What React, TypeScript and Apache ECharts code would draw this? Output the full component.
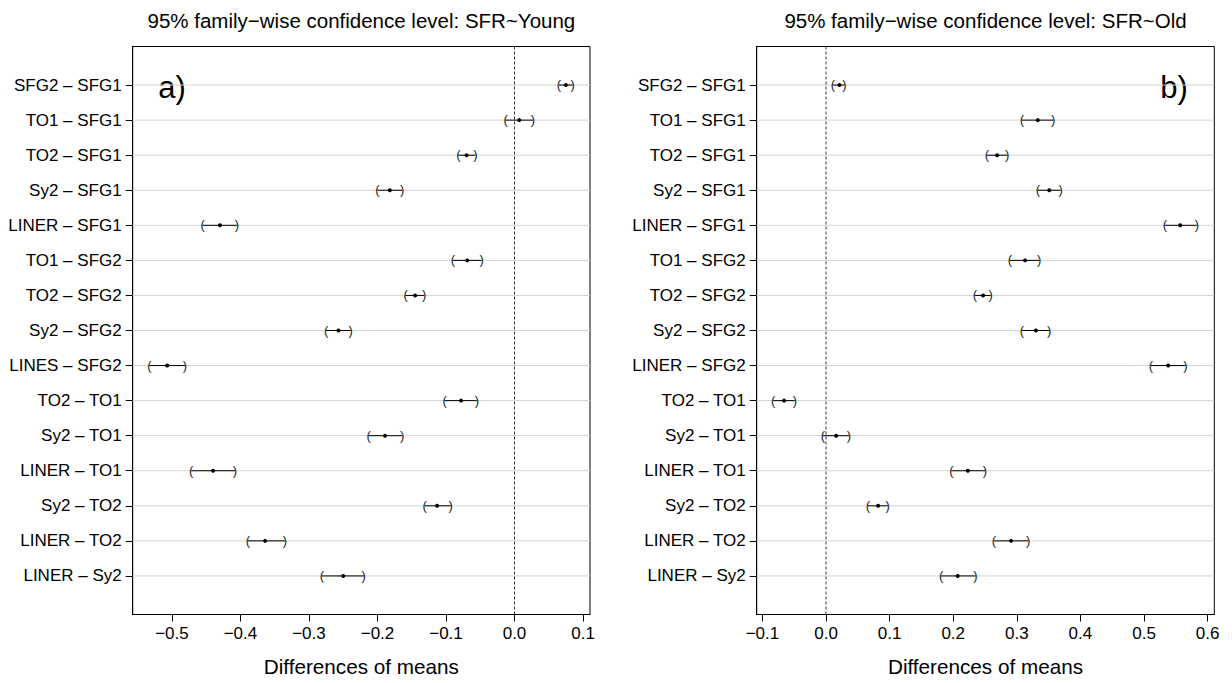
import React, { useEffect, useRef } from "react";
import * as echarts from "echarts";

// ---------- data ----------
const rowLabelsYoung = [
  "SFG2 – SFG1", "TO1 – SFG1", "TO2 – SFG1", "Sy2 – SFG1", "LINER – SFG1",
  "TO1 – SFG2", "TO2 – SFG2", "Sy2 – SFG2", "LINES – SFG2", "TO2 – TO1",
  "Sy2 – TO1", "LINER – TO1", "Sy2 – TO2", "LINER – TO2", "LINER – Sy2",
];
const rowLabelsOld = [
  "SFG2 – SFG1", "TO1 – SFG1", "TO2 – SFG1", "Sy2 – SFG1", "LINER – SFG1",
  "TO1 – SFG2", "TO2 – SFG2", "Sy2 – SFG2", "LINER – SFG2", "TO2 – TO1",
  "Sy2 – TO1", "LINER – TO1", "Sy2 – TO2", "LINER – TO2", "LINER – Sy2",
];
const rowPositions = [1, 2, 3, 4, 5, 6, 7, 8, 9, 10, 11, 12, 13, 14, 15];

const youngEstimate = [0.075, 0.007, -0.070, -0.182, -0.430, -0.069, -0.145, -0.257, -0.507, -0.078, -0.189, -0.440, -0.113, -0.364, -0.250];
const youngLower = [0.065, -0.013, -0.082, -0.200, -0.455, -0.090, -0.159, -0.275, -0.533, -0.102, -0.213, -0.472, -0.131, -0.389, -0.281];
const youngUpper = [0.085, 0.027, -0.057, -0.164, -0.405, -0.048, -0.132, -0.239, -0.481, -0.055, -0.164, -0.408, -0.093, -0.335, -0.220];

const oldEstimate = [0.021, 0.333, 0.269, 0.351, 0.557, 0.313, 0.247, 0.330, 0.538, -0.066, 0.016, 0.223, 0.082, 0.291, 0.207];
const oldLower = [0.011, 0.308, 0.253, 0.333, 0.533, 0.289, 0.234, 0.308, 0.511, -0.083, -0.005, 0.197, 0.066, 0.264, 0.181];
const oldUpper = [0.029, 0.357, 0.285, 0.369, 0.583, 0.335, 0.259, 0.351, 0.565, -0.049, 0.036, 0.250, 0.097, 0.318, 0.235];

const youngTicks = [-0.5, -0.4, -0.3, -0.2, -0.1, 0.0, 0.1];
const oldTicks = [-0.1, 0.0, 0.1, 0.2, 0.3, 0.4, 0.5, 0.6];

const titleYoung = "95% family−wise confidence level: SFR~Young";
const titleOld = "95% family−wise confidence level: SFR~Old";
const xAxisTitle = "Differences of means";
const panelTags = ["a)", "b)"];

// ---------- helpers ----------
const FONT = "'Liberation Sans', Arial, Helvetica, sans-serif";

const fmtTick = (v: number) => {
  const s = (Math.abs(v) < 1e-9 ? 0 : v).toFixed(1);
  return s.replace("-", "−");
};

function buildRows(lower: number[], est: number[], upper: number[]) {
  return rowPositions.map((r, i) => [lower[i], est[i], upper[i], r]);
}

const gridRender = (params: any, api: any) => {
  const cs = params.coordSys;
  const p = api.coord([0, api.value(0)]);
  return {
    type: "line",
    shape: { x1: cs.x, y1: p[1], x2: cs.x + cs.width, y2: p[1] },
    style: { stroke: "#d3d3d3", lineWidth: 1 },
  };
};

const barRender = (params: any, api: any) => {
  const row = api.value(3);
  const pL = api.coord([api.value(0), row]);
  const pM = api.coord([api.value(1), row]);
  const pU = api.coord([api.value(2), row]);
  const paren = (t: string, x: number, y: number) => ({
    type: "text",
    x,
    y,
    style: {
      text: t,
      textAlign: "center",
      align: "center",
      textVerticalAlign: "middle",
      verticalAlign: "middle",
      fontSize: 13,
      fontFamily: FONT,
      fill: "#222",
    },
  });
  return {
    type: "group",
    children: [
      {
        type: "line",
        shape: { x1: pL[0], y1: pL[1], x2: pU[0], y2: pU[1] },
        style: { stroke: "#000", lineWidth: 1 },
      },
      paren("(", pL[0], pL[1] - 0.5),
      paren(")", pU[0], pU[1] - 0.5),
      {
        type: "circle",
        shape: { cx: pM[0], cy: pM[1], r: 2 },
        style: { fill: "#000" },
      },
    ],
  };
};

const textEl = (text: string, x: number, y: number, fontSize: number) => ({
  type: "text",
  x,
  y,
  style: {
    text,
    textAlign: "center",
    align: "center",
    textVerticalAlign: "middle",
    verticalAlign: "middle",
    fontSize,
    fontFamily: FONT,
    fill: "#000",
  },
});

export default function App() {
  const ref = useRef<HTMLDivElement>(null);

  useEffect(() => {
    if (!ref.current) return;
    const chart = echarts.init(ref.current, null, { renderer: "svg" });

    const grids = [
      { left: 132.7, top: 46.5, width: 457.3, height: 568 },
      { left: 756.7, top: 46.5, width: 457.6, height: 568 },
    ];
    const xRanges = [
      { min: -0.5573, max: 0.1102, ticks: youngTicks },
      { min: -0.109, max: 0.6105, ticks: oldTicks },
    ];
    const labelSets = [rowLabelsYoung, rowLabelsOld];

    const option: any = {
      animation: false,
      backgroundColor: "#fff",
      textStyle: { fontFamily: FONT, color: "#000" },
      grid: grids.map((g) => ({
        ...g,
        show: true,
        borderColor: "#000",
        borderWidth: 1,
        backgroundColor: "transparent",
        containLabel: false,
        outerBoundsMode: "none",
      })),
      xAxis: xRanges.map((r, i) => ({
        type: "value",
        gridIndex: i,
        min: r.min,
        max: r.max,
        axisLine: { show: true, onZero: false, lineStyle: { color: "#000", width: 1 } },
        axisTick: {
          show: true,
          length: 7,
          customValues: r.ticks,
          lineStyle: { color: "#000", width: 1 },
        },
        axisLabel: {
          customValues: r.ticks,
          formatter: (v: number) => fmtTick(v),
          fontSize: 17,
          fontFamily: FONT,
          color: "#000",
          margin: 10,
        },
        splitLine: { show: false },
        name: xAxisTitle,
        nameLocation: "middle",
        nameGap: 41,
        nameTextStyle: { fontSize: 20.7, fontFamily: FONT, color: "#000" },
      })),
      yAxis: labelSets.map((labels, i) => ({
        type: "value",
        gridIndex: i,
        inverse: true,
        min: -0.1,
        max: 16.1,
        axisLine: { show: true, onZero: false, lineStyle: { color: "#000", width: 1 } },
        axisTick: {
          show: true,
          length: 7,
          customValues: rowPositions,
          lineStyle: { color: "#000", width: 1 },
        },
        axisLabel: {
          customValues: rowPositions,
          formatter: (v: number) => labels[Math.round(v) - 1] ?? "",
          fontSize: 17,
          fontFamily: FONT,
          color: "#000",
          margin: 11,
        },
        splitLine: { show: false },
      })),
      graphic: [
        textEl(titleYoung, 361.4, 20, 20.5),
        textEl(titleOld, 985.5, 20, 20.5),
        textEl(panelTags[0], 172, 87, 31),
        textEl(panelTags[1], 1174, 87, 31),
      ],
      series: [
        ...[0, 1].map((i) => ({
          type: "custom",
          xAxisIndex: i,
          yAxisIndex: i,
          z: 1,
          silent: true,
          data: rowPositions.map((r) => [r]),
          encode: { y: 0 },
          renderItem: gridRender,
        })),
        ...[0, 1].map((i) => ({
          type: "line",
          xAxisIndex: i,
          yAxisIndex: i,
          z: 2,
          silent: true,
          showSymbol: false,
          symbol: "none",
          data: [
            [0, -0.1],
            [0, 16.1],
          ],
          lineStyle: { color: "#333", width: 1, type: [3, 2] },
        })),
        {
          type: "custom",
          xAxisIndex: 0,
          yAxisIndex: 0,
          z: 3,
          silent: true,
          data: buildRows(youngLower, youngEstimate, youngUpper),
          encode: { x: [0, 1, 2], y: 3 },
          renderItem: barRender,
        },
        {
          type: "custom",
          xAxisIndex: 1,
          yAxisIndex: 1,
          z: 3,
          silent: true,
          data: buildRows(oldLower, oldEstimate, oldUpper),
          encode: { x: [0, 1, 2], y: 3 },
          renderItem: barRender,
        },
      ],
    };

    chart.setOption(option);
    return () => chart.dispose();
  }, []);

  return (
    <div
      ref={ref}
      style={{ position: "fixed", left: 0, top: 0, width: 1232, height: 683 }}
    />
  );
}
